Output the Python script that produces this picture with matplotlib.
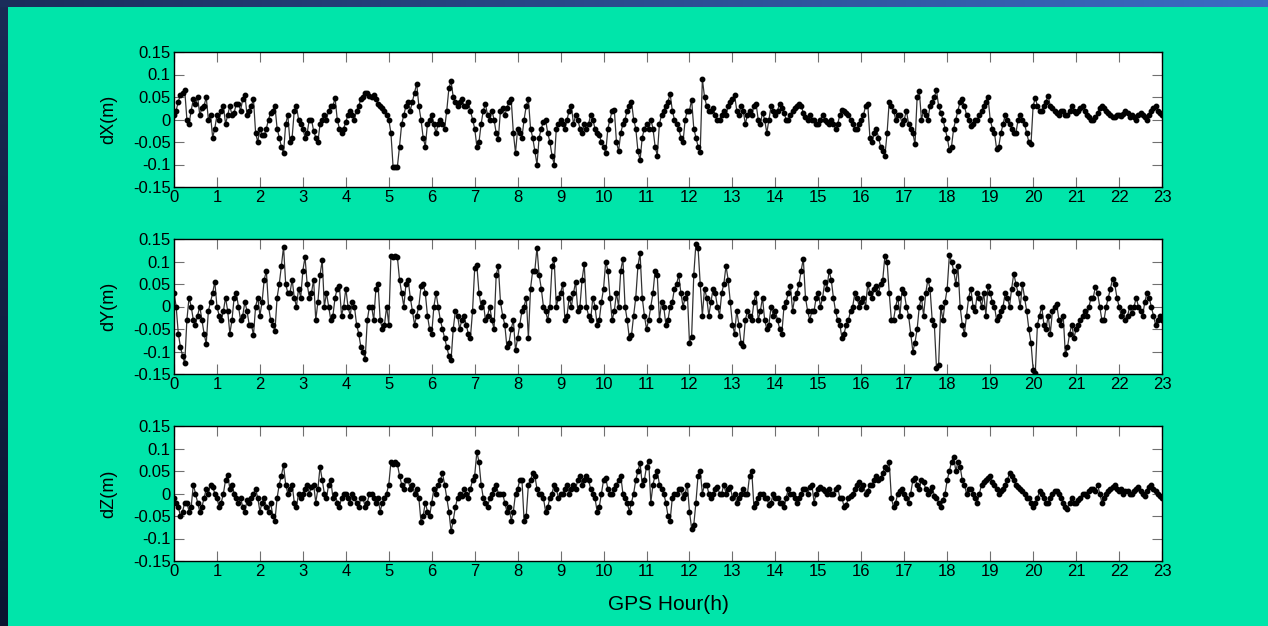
import numpy as np
import matplotlib
matplotlib.use("Agg")
import matplotlib.pyplot as plt

plt.rcParams['font.family'] = ['Liberation Sans', 'DejaVu Sans']

# GPS hour: samples on the tenth of an hour, plus the ones halfway between
hours = np.round(np.arange(0, 231) * 0.1, 1)
hours_mid = np.round(hours[:-1] + 0.05, 2)

dx = [0.01, 0.04, 0.06, 0.0, 0.02, 0.035, 0.01, 0.03, 0.0, -0.04,
      0.01, 0.02, -0.01, 0.03, 0.015, 0.035, 0.045, 0.01, 0.03, -0.03,
      -0.02, -0.035, 0.0, 0.02, -0.02, -0.06, -0.01, -0.05, 0.02, 0.0,
      -0.02, -0.03, 0.0, -0.04, -0.01, 0.01, 0.02, 0.03, 0.0, -0.03,
      -0.005, 0.02, 0.0, 0.03, 0.05, 0.058, 0.05, 0.045, 0.03, 0.02,
      0.0, -0.105, -0.105, -0.01, 0.03, 0.02, 0.06, 0.03, -0.04, -0.01,
      0.01, -0.03, 0.0, -0.02, 0.07, 0.05, 0.03, 0.045, 0.03, 0.02,
      -0.02, -0.05, 0.02, 0.01, 0.02, -0.03, 0.02, 0.01, 0.04, -0.03,
      -0.02, -0.04, 0.03, -0.02, -0.07, -0.04, -0.005, -0.03, -0.08, -0.02,
      0.0, -0.02, 0.02, -0.01, 0.0, -0.03, -0.02, 0.01, -0.02, -0.035,
      -0.06, -0.02, 0.02, -0.05, -0.03, 0.0, 0.03, 0.0, -0.07, -0.04,
      -0.01, 0.0, -0.06, -0.01, 0.02, 0.04, 0.02, -0.01, -0.04, 0.0,
      0.02, -0.02, -0.06, 0.09, 0.03, 0.02, 0.01, 0.0, 0.02, 0.03,
      0.045, 0.02, 0.03, -0.01, 0.02, 0.03, 0.0, 0.015, -0.03, 0.03,
      0.01, 0.035, 0.015, 0.0, 0.02, 0.03, 0.03, 0.005, 0.01, 0.0,
      -0.01, 0.01, -0.005, 0.0, -0.02, 0.01, 0.02, 0.01, -0.01, -0.02,
      0.0, 0.03, -0.04, -0.03, -0.04, -0.07, -0.03, 0.03, 0.0, 0.01,
      0.0, -0.01, -0.03, 0.05, 0.0, 0.01, 0.03, 0.05, 0.03, 0.0,
      -0.04, -0.06, 0.0, 0.04, 0.03, 0.0, -0.01, 0.0, 0.02, 0.04,
      0.0, -0.03, -0.06, -0.01, 0.0, -0.02, -0.03, 0.01, -0.01, -0.05,
      0.03, 0.03, 0.02, 0.04, 0.03, 0.02, 0.01, 0.02, 0.01, 0.03,
      0.015, 0.025, 0.02, 0.005, 0.0, 0.015, 0.03, 0.02, 0.01, 0.005,
      0.01, 0.012, 0.015, 0.01, 0.0, 0.015, 0.005, 0.01, 0.025, 0.02,
      0.01]
dx_mid = [0.02, 0.055, 0.065, -0.01, 0.045, 0.05, 0.025, 0.05, 0.01, -0.02,
          0.0, 0.03, 0.01, 0.01, 0.035, 0.02, 0.055, 0.02, 0.045, -0.05,
          -0.035, -0.02, 0.015, 0.03, -0.04, -0.075, 0.01, -0.04, 0.03, -0.01,
          -0.04, 0.0, -0.025, -0.05, 0.0, 0.0, 0.03, 0.048, -0.02, -0.02,
          0.01, 0.01, 0.02, 0.045, 0.06, 0.052, 0.055, 0.035, 0.025, 0.01,
          -0.03, -0.105, -0.06, 0.01, 0.04, 0.04, 0.08, 0.0, -0.06, 0.0,
          -0.01, -0.01, -0.01, 0.02, 0.085, 0.04, 0.04, 0.03, 0.04, 0.0,
          -0.06, -0.01, 0.034, 0.0, 0.0, -0.043, 0.025, 0.025, 0.045, -0.074,
          -0.03, 0.0, 0.045, -0.04, -0.1, -0.02, 0.0, -0.05, -0.1, -0.01,
          -0.01, 0.0, 0.03, 0.01, -0.02, -0.01, -0.01, 0.0, -0.03, -0.05,
          -0.074, 0.0, 0.022, -0.07, -0.01, 0.02, 0.04, -0.02, -0.09, -0.02,
          -0.02, -0.02, -0.08, 0.01, 0.03, 0.057, 0.0, -0.02, -0.05, 0.02,
          0.044, -0.04, -0.072, 0.05, 0.02, 0.025, 0.0, 0.01, 0.01, 0.04,
          0.055, 0.01, 0.02, 0.01, 0.01, 0.035, -0.01, 0.0, 0.0, 0.02,
          0.02, 0.025, 0.0, 0.01, 0.025, 0.035, 0.015, 0.0, 0.0, -0.01,
          0.0, 0.0, -0.01, -0.01, -0.01, 0.022, 0.015, 0.0, -0.02, -0.01,
          0.01, 0.035, -0.05, -0.02, -0.06, -0.08, 0.04, 0.02, 0.01, -0.01,
          0.02, -0.02, -0.055, 0.063, 0.02, 0.0, 0.04, 0.065, 0.015, -0.02,
          -0.068, -0.02, 0.02, 0.045, 0.01, -0.015, 0.0, 0.01, 0.03, 0.05,
          -0.02, -0.065, -0.03, 0.01, -0.01, -0.03, 0.0, 0.0, -0.03, -0.055,
          0.048, 0.02, 0.03, 0.053, 0.025, 0.015, 0.02, 0.01, 0.02, 0.02,
          0.02, 0.03, 0.01, 0.0, 0.005, 0.025, 0.025, 0.015, 0.005, 0.01,
          0.008, 0.018, 0.005, 0.005, 0.01, 0.01, 0.0, 0.02, 0.03, 0.015]

dy = [0.03, -0.06, -0.11, -0.03, 0.0, -0.04, 0.0, -0.06, -0.01, 0.03,
      0.0, -0.03, 0.02, -0.06, 0.02, 0.0, -0.02, -0.01, -0.04, 0.0,
      -0.02, 0.06, 0.0, -0.04, 0.02, 0.09, 0.05, 0.03, 0.02, 0.04,
      0.08, 0.05, 0.03, -0.03, 0.07, 0.0, 0.0, -0.02, 0.04, -0.02,
      0.04, -0.02, 0.0, -0.06, -0.1, -0.03, 0.0, 0.04, -0.03, -0.04,
      -0.04, 0.11, 0.11, 0.03, 0.05, 0.02, -0.04, 0.0, 0.05, -0.02,
      -0.06, 0.03, -0.03, -0.07, -0.11, -0.05, -0.02, -0.03, -0.04, -0.07,
      0.085, 0.03, 0.01, -0.02, -0.03, 0.07, 0.01, -0.04, -0.08, -0.03,
      -0.07, -0.01, 0.02, 0.04, 0.08, 0.07, 0.0, -0.03, 0.09, 0.0,
      0.03, -0.03, 0.02, 0.03, -0.01, 0.06, 0.0, -0.03, 0.0, -0.03,
      0.04, 0.08, -0.03, 0.03, 0.08, 0.0, -0.07, -0.02, 0.09, 0.02,
      -0.05, 0.0, 0.08, -0.03, 0.0, -0.03, 0.01, 0.05, 0.03, 0.02,
      -0.08, 0.07, 0.13, -0.02, 0.02, 0.01, 0.03, -0.02, 0.05, 0.06,
      -0.04, -0.01, -0.08, -0.03, -0.02, 0.01, -0.03, 0.02, -0.05, 0.0,
      -0.01, -0.05, 0.0, 0.03, -0.01, 0.03, 0.08, 0.02, -0.03, -0.01,
      0.03, 0.02, 0.04, 0.06, -0.01, -0.04, -0.06, -0.03, 0.0, 0.02,
      0.01, 0.0, 0.03, 0.04, 0.03, 0.06, 0.1, -0.03, 0.0, -0.02,
      0.03, -0.02, -0.1, -0.05, 0.02, 0.03, 0.04, -0.04, -0.13, -0.03,
      0.04, 0.1, 0.05, 0.0, -0.06, 0.02, 0.0, 0.03, 0.0, -0.02,
      0.03, 0.0, -0.02, 0.0, 0.02, 0.04, 0.05, 0.0, 0.02, -0.05,
      -0.14, -0.04, 0.0, -0.05, -0.06, 0.0, -0.03, -0.02, -0.09, -0.04,
      -0.05, -0.03, -0.01, 0.0, 0.02, 0.03, -0.03, 0.0, 0.04, 0.05,
      0.0, -0.01, -0.02, -0.015, 0.02, -0.01, 0.01, 0.02, -0.02, -0.03,
      -0.03]
dy_mid = [0.0, -0.09, -0.126, 0.02, -0.03, -0.02, -0.03, -0.083, 0.01, 0.055,
          -0.02, -0.01, -0.01, -0.03, 0.03, -0.03, 0.01, -0.04, -0.063, 0.02,
          0.01, 0.079, -0.03, -0.055, 0.05, 0.133, 0.03, 0.06, 0.0, 0.02,
          0.11, 0.02, 0.06, 0.01, 0.103, 0.03, -0.03, 0.02, 0.046, 0.0,
          0.0, 0.01, -0.04, -0.09, -0.117, 0.0, -0.03, 0.05, -0.05, 0.0,
          0.113, 0.113, 0.06, 0.0, 0.06, -0.01, -0.02, 0.045, 0.03, -0.05,
          0.0, 0.0, -0.05, -0.09, -0.119, -0.01, -0.05, -0.02, -0.06, -0.01,
          0.092, 0.0, -0.03, 0.0, -0.05, 0.09, -0.02, -0.09, -0.05, -0.097,
          -0.04, 0.0, -0.07, 0.08, 0.131, 0.04, -0.01, 0.0, 0.105, 0.02,
          0.05, -0.02, 0.0, 0.055, 0.0, 0.094, -0.02, 0.02, -0.04, 0.01,
          0.1, 0.02, -0.01, 0.0, 0.106, -0.03, -0.064, 0.02, 0.118, -0.02,
          -0.03, 0.03, 0.07, 0.01, -0.04, 0.0, 0.04, 0.07, 0.0, 0.03,
          -0.067, 0.14, 0.05, 0.04, -0.02, 0.04, 0.0, 0.03, 0.09, 0.01,
          -0.06, -0.04, -0.087, -0.01, -0.03, 0.03, -0.01, -0.03, -0.04, -0.02,
          -0.03, -0.06, 0.01, 0.045, 0.02, 0.05, 0.106, -0.01, -0.01, 0.02,
          0.0, 0.055, 0.079, 0.02, -0.03, -0.07, -0.04, -0.01, 0.03, 0.0,
          0.02, 0.05, 0.02, 0.045, 0.05, 0.113, 0.03, -0.03, 0.02, 0.04,
          0.0, -0.06, -0.08, 0.0, -0.02, 0.06, -0.03, -0.136, 0.0, 0.01,
          0.114, 0.08, 0.09, -0.04, -0.02, 0.04, -0.01, 0.02, 0.03, 0.045,
          0.01, -0.03, -0.01, 0.03, 0.0, 0.073, 0.03, 0.05, -0.01, -0.08,
          -0.148, -0.02, -0.04, -0.02, -0.01, 0.005, -0.04, -0.106, -0.06, -0.07,
          -0.04, -0.02, -0.02, 0.02, 0.044, 0.0, -0.03, 0.02, 0.062, 0.02,
          -0.02, -0.03, 0.0, 0.0, 0.0, -0.02, 0.03, 0.0, -0.04, -0.02]

dz = [-0.01, -0.03, -0.04, -0.02, -0.03, 0.0, -0.04, -0.01, 0.0, 0.015,
      -0.01, -0.02, 0.03, 0.01, 0.0, -0.02, -0.03, -0.015, -0.01, 0.01,
      -0.04, -0.01, -0.04, -0.05, -0.01, 0.04, 0.02, 0.01, -0.02, 0.0,
      0.0, 0.02, 0.015, -0.02, 0.06, 0.0, 0.02, -0.01, -0.02, -0.01,
      0.0, -0.02, -0.01, -0.03, -0.01, -0.02, 0.0, -0.02, -0.04, -0.01,
      0.02, 0.065, 0.065, 0.02, 0.03, 0.01, 0.0, -0.01, -0.05, -0.04,
      -0.02, 0.0, 0.03, 0.02, -0.04, -0.06, -0.01, -0.005, 0.0, 0.01,
      0.04, 0.07, -0.01, -0.03, 0.0, 0.02, 0.0, -0.02, -0.03, -0.04,
      0.01, 0.03, -0.05, 0.03, 0.04, 0.0, -0.01, -0.03, 0.0, 0.01,
      0.0, 0.01, 0.0, 0.02, 0.03, 0.02, 0.04, 0.01, -0.01, -0.03,
      0.03, 0.01, 0.0, 0.02, 0.04, -0.01, -0.04, 0.0, 0.05, 0.02,
      0.06, -0.02, 0.04, 0.02, 0.0, -0.05, -0.01, 0.0, 0.01, 0.0,
      -0.04, -0.07, 0.04, 0.0, 0.02, -0.01, 0.01, 0.0, 0.02, 0.01,
      -0.01, -0.02, 0.0, 0.0, 0.04, -0.03, -0.01, 0.0, -0.01, -0.02,
      -0.01, -0.02, -0.03, 0.01, 0.0, -0.02, 0.0, 0.01, 0.015, -0.02,
      0.01, 0.01, 0.0, 0.0, 0.01, -0.01, -0.03, -0.01, 0.0, 0.02,
      0.01, 0.0, 0.02, 0.03, 0.03, 0.045, 0.055, -0.01, -0.02, 0.005,
      0.0, -0.02, 0.03, 0.02, 0.03, 0.01, 0.005, -0.005, -0.02, -0.015,
      0.03, 0.07, 0.05, 0.06, 0.02, 0.01, 0.0, -0.02, 0.02, 0.03,
      0.04, 0.02, 0.0, 0.01, 0.03, 0.04, 0.02, 0.01, 0.0, -0.01,
      -0.03, -0.01, 0.0, -0.02, -0.01, 0.005, 0.0, -0.02, -0.035, -0.01,
      -0.02, -0.01, 0.0, 0.005, 0.01, 0.02, -0.02, 0.0, 0.01, 0.02,
      0.005, 0.0, 0.005, 0.0, 0.01, 0.005, -0.005, 0.015, 0.01, 0.0,
      -0.01]
dz_mid = [-0.02, -0.05, -0.02, -0.04, 0.02, -0.02, -0.03, 0.01, 0.02, 0.0,
          -0.03, 0.0, 0.042, 0.02, -0.01, -0.01, -0.04, -0.02, 0.0, -0.01,
          -0.02, -0.03, -0.02, -0.06, 0.02, 0.063, 0.0, 0.02, -0.03, -0.01,
          0.01, 0.0, 0.02, 0.01, 0.03, -0.01, 0.03, 0.0, -0.03, 0.0,
          -0.01, 0.0, -0.02, -0.01, -0.03, 0.0, -0.01, -0.01, -0.02, 0.0,
          0.07, 0.07, 0.04, 0.01, 0.03, 0.02, 0.01, -0.063, -0.02, -0.05,
          0.01, 0.02, 0.045, -0.01, -0.084, -0.03, 0.0, 0.01, -0.01, 0.03,
          0.092, 0.02, -0.02, -0.01, 0.01, 0.0, 0.0, -0.04, -0.06, 0.0,
          0.03, -0.06, 0.02, 0.045, 0.01, 0.0, -0.04, -0.01, 0.02, -0.01,
          0.0, 0.02, 0.01, 0.01, 0.04, 0.03, 0.03, 0.0, -0.04, 0.0,
          0.035, 0.0, 0.01, 0.03, 0.0, -0.02, -0.02, 0.03, 0.068, 0.03,
          0.073, 0.02, 0.05, 0.01, -0.02, -0.06, 0.0, 0.01, -0.01, 0.02,
          -0.078, -0.02, 0.05, 0.02, 0.0, 0.0, 0.015, 0.0, 0.0, 0.015,
          0.0, -0.01, 0.01, 0.0, 0.05, -0.02, 0.0, -0.01, -0.025, 0.0,
          -0.01, -0.02, -0.01, 0.0, -0.01, -0.01, 0.01, 0.0, 0.02, 0.0,
          0.015, 0.005, 0.01, 0.0, 0.015, -0.01, -0.025, -0.005, 0.01, 0.025,
          0.02, 0.005, 0.02, 0.04, 0.035, 0.06, 0.07, -0.03, 0.0, 0.01,
          -0.01, 0.0, 0.035, 0.01, 0.025, 0.0, 0.015, -0.01, -0.03, 0.0,
          0.05, 0.082, 0.07, 0.03, 0.0, 0.01, -0.01, 0.0, 0.025, 0.035,
          0.025, 0.01, 0.005, 0.02, 0.045, 0.03, 0.015, 0.005, -0.01, -0.02,
          -0.02, 0.005, -0.01, -0.02, 0.0, 0.005, -0.01, -0.03, -0.02, -0.02,
          -0.015, 0.0, -0.005, 0.01, 0.005, 0.0, -0.01, 0.005, 0.015, 0.01,
          0.01, 0.005, 0.0, 0.005, 0.015, 0.0, 0.005, 0.02, 0.005, -0.005]

ylabels = ['dX(m)', 'dY(m)', 'dZ(m)']
xticks = list(range(0, 24))
yticks = [-0.15, -0.1, -0.05, 0, 0.05, 0.1, 0.15]
ytick_labels = ['-0.15', '-0.1', '-0.05', '0', '0.05', '0.1', '0.15']


def merge(main, mid):
    # put the half-step samples between the tenth-of-hour ones
    t = np.empty(len(hours) + len(hours_mid))
    v = np.empty_like(t)
    t[0::2], t[1::2] = hours, hours_mid
    v[0::2], v[1::2] = main, mid
    return t, v


W, H = 1268, 626
green = '#00e5aa'
fig = plt.figure(figsize=(W / 100, H / 100), dpi=100, facecolor=green)

# slide frame: blue band on top, dark band on the left
top = fig.add_axes([0, 1 - 7 / H, 1, 7 / H])
top.imshow(np.linspace(0, 1, 256)[None, :], aspect='auto', extent=(0, 1, 0, 1),
           cmap=matplotlib.colors.LinearSegmentedColormap.from_list('t', ['#1b2d5a', '#3c6cc4']))
top.axis('off')
left = fig.add_axes([0, 0, 8 / W, 1 - 7 / H])
left.imshow(np.linspace(0, 1, 256)[:, None], aspect='auto', extent=(0, 1, 0, 1),
            cmap=matplotlib.colors.LinearSegmentedColormap.from_list('l', ['#1a2b55', '#0a1530']))
left.axis('off')

ax_left, ax_w = 174 / W, (1162 - 174) / W
tops = [52, 239, 426]
ax_h = 135 / H

for i, (main, mid, lab) in enumerate(zip([dx, dy, dz], [dx_mid, dy_mid, dz_mid], ylabels)):
    t, v = merge(main, mid)
    ax = fig.add_axes([ax_left, 1 - (tops[i] + 135) / H, ax_w, ax_h])
    ax.set_facecolor('white')
    ax.plot(t, v, '-', color='#333333', lw=0.9,
            marker='o', ms=3.2, mfc='black', mec='black')
    ax.set_xlim(0, 23)
    ax.set_ylim(-0.15, 0.15)
    ax.set_xticks(xticks)
    ax.set_yticks(yticks)
    ax.set_yticklabels(ytick_labels)
    ax.tick_params(direction='in', length=7.5, width=0.8, color='#707070',
                   top=True, right=True, labelsize=12, pad=2.5)
    for s in ax.spines.values():
        s.set_linewidth(1.0)
        s.set_color('black')
    ax.set_ylabel(lab, fontsize=13)
    ax.yaxis.set_label_coords(-0.057, 0.5)
    if i == 2:
        ax.set_xlabel('GPS Hour(h)', fontsize=15, labelpad=11)

plt.savefig('out.png', dpi=100, facecolor=green)
